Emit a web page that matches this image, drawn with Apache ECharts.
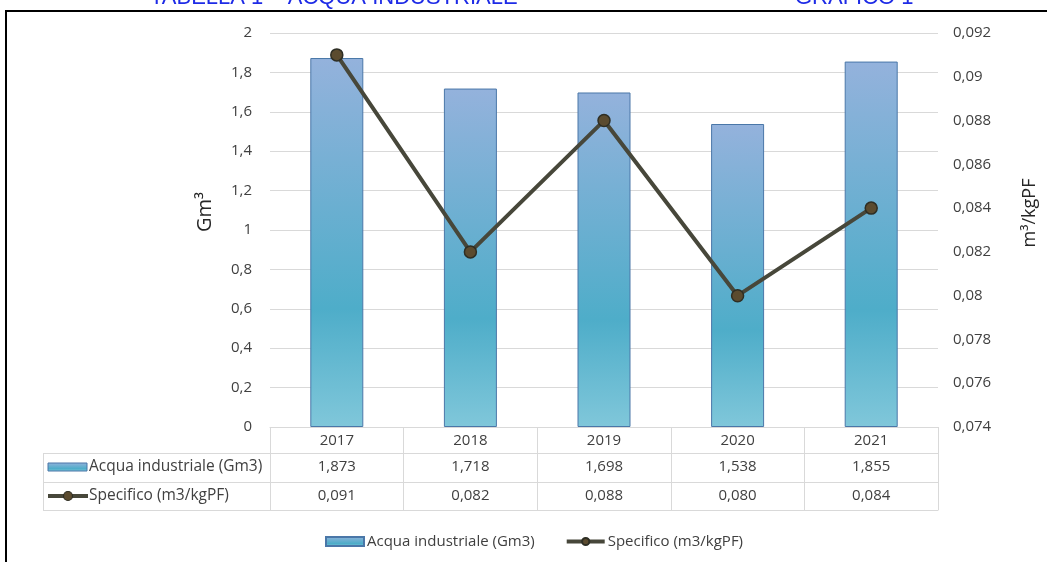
<!DOCTYPE html>
<html>
<head>
<meta charset="utf-8">
<script src="https://cdn.jsdelivr.net/npm/echarts@6/dist/echarts.min.js"></script>
<style>
  html, body { margin: 0; padding: 0; background: #ffffff; }
  #chart { width: 1047px; height: 562px; }
</style>
</head>
<body>
<div id="chart"></div>
<script>
// Categories and series values
const years = ['2017', '2018', '2019', '2020', '2021'];
const acquaIndustriale = [1.873, 1.718, 1.698, 1.538, 1.855];   // Gm3
const specifico = [0.091, 0.082, 0.088, 0.080, 0.084];          // m3/kgPF
const seriesNames = ['Acqua industriale (Gm3)', 'Specifico (m3/kgPF)'];

// Axis ranges
const leftAxisRange = { min: 0, max: 2, interval: 0.2 };
const rightAxisRange = { min: 0.074, max: 0.092, interval: 0.002 };

// Header texts
const titleLeft = 'TABELLA 1 – ACQUA INDUSTRIALE';
const titleRight = 'GRAFICO 1';
const leftAxisName = 'Gm³';
const rightAxisName = 'm³/kgPF';

const FONT = '"Open Sans", Lato, sans-serif';
const FS = 15;
const TEXT = '#404040';
const GRID_GREY = '#D9D9D9';

const commaNum = v => String(parseFloat(Number(v).toFixed(4))).replace('.', ',');
const fixed3 = v => Number(v).toFixed(3).replace('.', ',');

const barFill = () => new echarts.graphic.LinearGradient(0, 0, 0, 1, [
  { offset: 0, color: '#94B2DC' },
  { offset: 0.68, color: '#4EADC9' },
  { offset: 1, color: '#80C7DA' }
]);
const LINE_COLOR = '#47473A';
const MARK_FILL = '#5B4B2F';
const MARK_EDGE = '#2E2E24';

const chart = echarts.init(document.getElementById('chart'), null, { renderer: 'canvas' });

// Table rows under the plot: one category axis per row
function tableAxis(offset, tickLen, formatter, showLabel) {
  return {
    type: 'category',
    data: years,
    gridIndex: 0,
    position: 'bottom',
    offset: offset,
    boundaryGap: true,
    axisLine: { show: true, lineStyle: { color: GRID_GREY, width: 1 } },
    axisTick: { show: tickLen > 0, interval: 0, alignWithLabel: false, length: tickLen,
                lineStyle: { color: GRID_GREY, width: 1 } },
    axisLabel: { show: showLabel, interval: 0, margin: 6, fontFamily: FONT, fontSize: FS,
                 color: TEXT, formatter: formatter },
    splitLine: { show: false }
  };
}

const option = {
  animation: false,
  backgroundColor: '#ffffff',
  grid: { left: 270, right: 109, top: 33, bottom: 135, containLabel: false },
  legend: {
    left: 320,
    top: 529,
    itemWidth: 38,
    itemHeight: 9,
    itemGap: 30,
    textStyle: { fontFamily: FONT, fontSize: FS, color: TEXT, padding: [0, 0, 0, -2] },
    data: [
      { name: seriesNames[0], icon: 'rect' },
      { name: seriesNames[1], lineStyle: { width: 4, color: LINE_COLOR } }
    ]
  },
  xAxis: [
    tableAxis(0, 26, v => v, true),
    tableAxis(26, 29, (v, i) => fixed3(acquaIndustriale[i]), true),
    tableAxis(55, 28, (v, i) => fixed3(specifico[i]), true),
    tableAxis(83, 0, v => '', false)
  ],
  yAxis: [
    {
      type: 'value',
      position: 'left',
      min: leftAxisRange.min, max: leftAxisRange.max, interval: leftAxisRange.interval,
      axisLine: { show: false }, axisTick: { show: false },
      axisLabel: { margin: 18, fontFamily: FONT, fontSize: FS, color: TEXT, formatter: commaNum },
      splitLine: { show: true, lineStyle: { color: GRID_GREY, width: 1 } }
    },
    {
      type: 'value',
      position: 'right',
      min: rightAxisRange.min, max: rightAxisRange.max, interval: rightAxisRange.interval,
      axisLine: { show: false }, axisTick: { show: false },
      axisLabel: { margin: 15, fontFamily: FONT, fontSize: FS, color: TEXT, formatter: commaNum },
      splitLine: { show: false }
    }
  ],
  series: [
    {
      name: seriesNames[0],
      type: 'bar',
      xAxisIndex: 0, yAxisIndex: 0,
      data: acquaIndustriale,
      barWidth: 53,
      itemStyle: { color: barFill(), borderColor: '#4A77A8', borderWidth: 1 }
    },
    {
      name: seriesNames[1],
      type: 'line',
      xAxisIndex: 0, yAxisIndex: 1,
      data: specifico,
      z: 5,
      symbol: 'circle',
      symbolSize: 12,
      showSymbol: true,
      lineStyle: { color: LINE_COLOR, width: 4 },
      itemStyle: { color: MARK_FILL, borderColor: MARK_EDGE, borderWidth: 1.5 }
    }
  ],
  graphic: [
    // frame of the chart box
    { type: 'rect', z: 10, silent: true,
      shape: { x: 6, y: 11, width: 1100, height: 620 },
      style: { fill: 'none', stroke: '#000000', lineWidth: 2 } },
    // headings above the box
    { type: 'text', z: 10, x: 150, y: 9,
      style: { text: titleLeft, fill: '#1E2BE6', font: '22px "Liberation Sans", Arial, sans-serif',
               verticalAlign: 'bottom' } },
    { type: 'text', z: 10, x: 795, y: 9,
      style: { text: titleRight, fill: '#1E2BE6', font: '22px "Liberation Sans", Arial, sans-serif',
               verticalAlign: 'bottom' } },
    // axis titles
    { type: 'text', z: 10, x: 205, y: 212, rotation: Math.PI / 2,
      style: { text: leftAxisName, fill: '#262626', font: '20px ' + FONT,
               align: 'center', verticalAlign: 'middle' } },
    { type: 'text', z: 10, x: 1030, y: 213, rotation: Math.PI / 2,
      style: { text: rightAxisName, fill: '#262626', font: '18px ' + FONT,
               align: 'center', verticalAlign: 'middle' } },
    // row header cells of the data table
    { type: 'line', shape: { x1: 43, y1: 453.5, x2: 270, y2: 453.5 }, style: { stroke: GRID_GREY, lineWidth: 1 } },
    { type: 'line', shape: { x1: 43, y1: 482.5, x2: 270, y2: 482.5 }, style: { stroke: GRID_GREY, lineWidth: 1 } },
    { type: 'line', shape: { x1: 43, y1: 510.5, x2: 270, y2: 510.5 }, style: { stroke: GRID_GREY, lineWidth: 1 } },
    { type: 'line', shape: { x1: 43.5, y1: 453, x2: 43.5, y2: 511 }, style: { stroke: GRID_GREY, lineWidth: 1 } },
    { type: 'rect', shape: { x: 48, y: 463, width: 39, height: 8 },
      style: { fill: barFill(), stroke: '#4A77A8', lineWidth: 1 } },
    { type: 'text', x: 89, y: 467,
      style: { text: seriesNames[0], fill: TEXT, font: '15.5px ' + FONT, verticalAlign: 'middle' } },
    { type: 'line', shape: { x1: 48, y1: 496, x2: 88, y2: 496 },
      style: { stroke: LINE_COLOR, lineWidth: 4 } },
    { type: 'circle', shape: { cx: 68, cy: 496, r: 4.5 },
      style: { fill: MARK_FILL, stroke: MARK_EDGE, lineWidth: 1.2 } },
    { type: 'text', x: 89, y: 496,
      style: { text: seriesNames[1], fill: TEXT, font: '15.5px ' + FONT, verticalAlign: 'middle' } }
  ]
};

chart.setOption(option);
</script>
</body>
</html>
